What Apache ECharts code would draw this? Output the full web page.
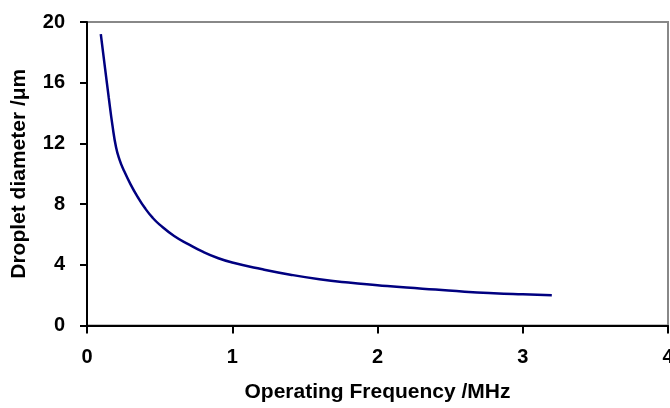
<!DOCTYPE html>
<html>
<head>
<meta charset="utf-8">
<script src="https://cdn.jsdelivr.net/npm/echarts@6/dist/echarts.min.js"></script>
<style>html,body{margin:0;padding:0;background:#fff;overflow:hidden}#c{width:670px;height:408px}</style>
</head>
<body>
<div id="c"></div>
<script>
var frequency = [0.095, 0.125, 0.15, 0.175, 0.2, 0.225, 0.25, 0.3, 0.35, 0.4, 0.45, 0.5, 0.6, 0.7, 0.8, 0.9, 1.0, 1.2, 1.4, 1.6, 1.8, 2.0, 2.2, 2.4, 2.6, 2.8, 3.0, 3.2];
var diameter  = [19.2, 16.9, 15.0, 13.2, 11.75, 10.9, 10.3, 9.3, 8.45, 7.72, 7.12, 6.65, 5.9, 5.35, 4.85, 4.45, 4.15, 3.72, 3.35, 3.05, 2.83, 2.66, 2.5, 2.37, 2.23, 2.13, 2.06, 2.0];
var xTicks = [0, 1, 2, 3, 4];
var yTicks = [0, 4, 8, 12, 16, 20];
var xTitle = 'Operating Frequency /MHz';
var yTitle = 'Droplet diameter /\u03bcm';

var pts = frequency.map(function (f, i) { return [f, diameter[i]]; });
var font = 'Liberation Sans, Arial, sans-serif';
var chart = echarts.init(document.getElementById('c'), null, {renderer: 'canvas'});
chart.setOption({
  animation: false,
  backgroundColor: '#fff',
  grid: {left: 87, right: 2, top: 22, bottom: 82.5, show: true, borderColor: '#888', borderWidth: 2,
         backgroundColor: 'transparent', containLabel: false, outerBoundsMode: 'none'},
  xAxis: {
    type: 'value', min: xTicks[0], max: xTicks[xTicks.length - 1], interval: 1,
    name: xTitle, nameLocation: 'middle', nameGap: 56,
    nameTextStyle: {color: '#000', fontSize: 21, fontWeight: 'bold', fontFamily: font},
    axisLine: {show: true, onZero: false, lineStyle: {color: '#000', width: 2}},
    axisTick: {show: true, inside: false, length: 8, lineStyle: {color: '#000', width: 2}},
    axisLabel: {color: '#000', fontSize: 20, fontWeight: 'bold', fontFamily: font, margin: 22},
    splitLine: {show: false}
  },
  yAxis: {
    type: 'value', min: yTicks[0], max: yTicks[yTicks.length - 1], interval: 4,
    name: yTitle, nameLocation: 'middle', nameGap: 57, nameRotate: 90,
    nameTextStyle: {color: '#000', fontSize: 21, fontWeight: 'bold', fontFamily: font},
    axisLine: {show: true, onZero: false, lineStyle: {color: '#000', width: 2}},
    axisTick: {show: true, inside: false, length: 7, lineStyle: {color: '#000', width: 2}},
    axisLabel: {color: '#000', fontSize: 20, fontWeight: 'bold', fontFamily: font, margin: 22},
    splitLine: {show: false}
  },
  series: [{
    type: 'line', data: pts, smooth: 0.5, showSymbol: false,
    lineStyle: {color: '#000080', width: 2.5}
  }]
});
</script>
</body>
</html>
